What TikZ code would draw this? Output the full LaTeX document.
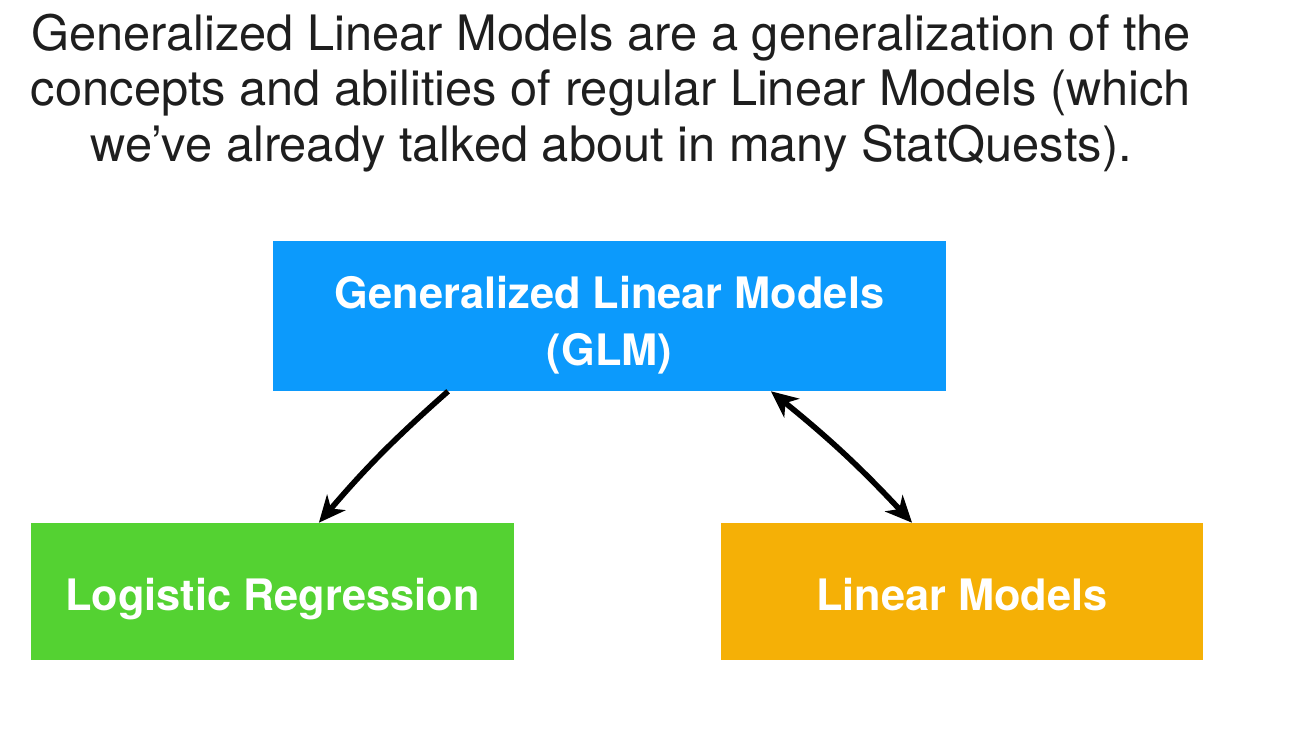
\documentclass[tikz,border=0pt]{standalone}
\usepackage{fontspec}
\setmainfont{TeX Gyre Heros}
\usetikzlibrary{arrows.meta}

\definecolor{glmblue}{RGB}{12,154,252}
\definecolor{lrgreen}{RGB}{84,210,50}
\definecolor{lmorange}{RGB}{245,176,6}
\definecolor{titlegray}{RGB}{30,30,30}

\begin{document}
\begin{tikzpicture}[x=0.75pt, y=-0.75pt,
    box/.style={rectangle, inner sep=0pt, text=white, font=\fontsize{32.5}{42.75}\selectfont\bfseries, align=center,
      text height=28.6pt, text depth=0pt},
    link/.style={line width=4.2pt, black, -{Stealth[length=20pt, width=18pt, inset=6pt]}}]
    \useasboundingbox (0,0) rectangle (1302,731);

    \node (t) [text=titlegray, font=\fontsize{36.6}{41.6}\selectfont, align=center] at (611,93)
      {Generalized Linear Models are a generalization of the\\
       concepts and abilities of regular Linear Models (which\\
       we’ve already talked about in many StatQuests).};

    \node (a) [box, text height=74.4pt, fill=glmblue, minimum width=504.75pt, minimum height=112.5pt] at (609.5,316)
      {Generalized Linear Models\\(GLM)};
    \node (b) [box, fill=lrgreen, minimum width=362.25pt, minimum height=102.75pt] at (272.5,591.5)
      {Logistic Regression};
    \node (c) [box, fill=lmorange, minimum width=361.5pt, minimum height=102.75pt] at (962,591.5)
      {Linear Models};

    \draw[link] (a.205.5) to[bend right=4] (b.56.4);
    \draw[link, {Stealth[length=20pt, width=18pt, inset=6pt]}-{Stealth[length=20pt, width=18pt, inset=6pt]}]
      (a.335.9) to[bend left=4] (c.126.1);
\end{tikzpicture}
\end{document}
